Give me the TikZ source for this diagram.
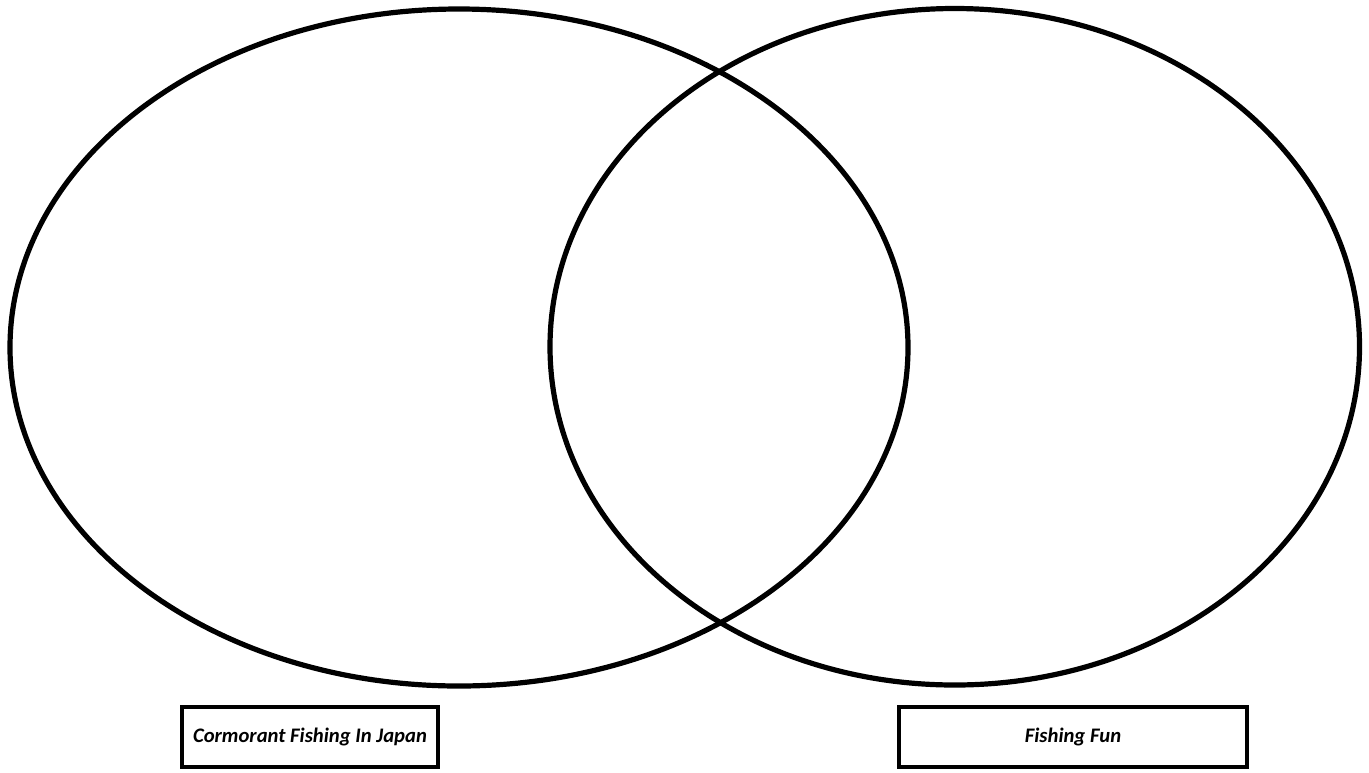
\documentclass[tikz,border=0pt]{standalone}
\usepackage{fontspec}
\setmainfont{Carlito}
\tikzset{
  venn/.style={draw=black, line width=3.9pt},
  label box/.style={draw=black, line width=3pt, fill=white, inner sep=0pt,
    font=\fontsize{15.5}{18}\selectfont\bfseries\itshape}
}
\begin{document}
\begin{tikzpicture}[x=0.75pt,y=-0.75pt]
\useasboundingbox (0,0) rectangle (1369,772);
\draw[venn] (459,347.5) ellipse [x radius=449, y radius=338.5];
\draw[venn] (954.75,346.75) ellipse [x radius=404.75, y radius=338.25];
\node[label box, minimum width=256*0.75pt, minimum height=60*0.75pt] (left) at (310,737) {Cormorant Fishing In Japan};
\node[label box, minimum width=348*0.75pt, minimum height=60*0.75pt] (right) at (1073,737) {Fishing Fun};
\end{tikzpicture}
\end{document}
